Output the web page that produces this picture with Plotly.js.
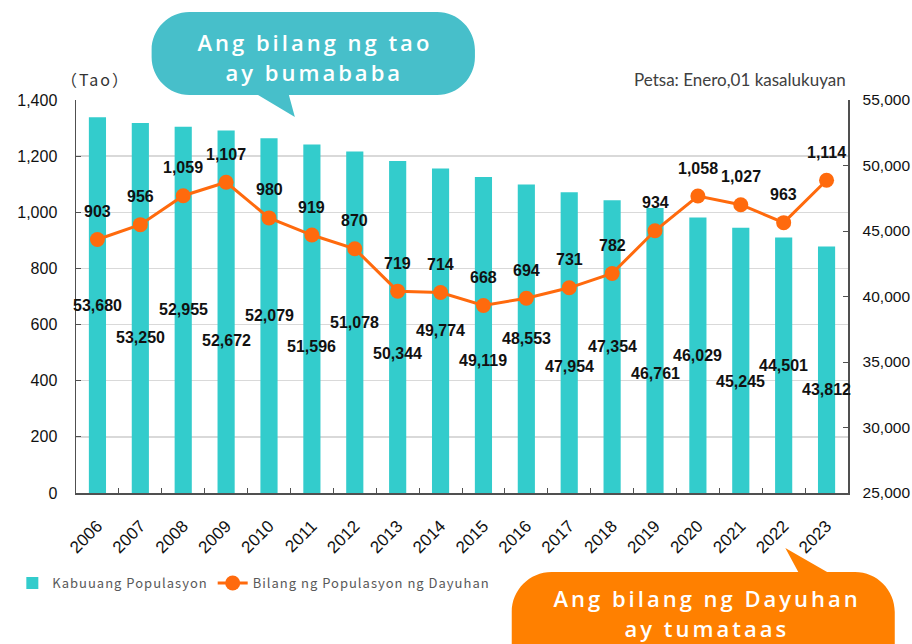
<!DOCTYPE html>
<html>
<head>
<meta charset="utf-8">
<script src="https://cdn.plot.ly/plotly-3.0.1.min.js"></script>
<style>
  html, body { margin: 0; padding: 0; background: #fff; }
  #chart { width: 912px; height: 644px; }
  g.annotation[data-index="0"] text, g.annotation[data-index="1"] text,
  g.annotation[data-index="2"] text, g.annotation[data-index="3"] text { letter-spacing: 3px; }
  g.annotation[data-index="4"] text { letter-spacing: 2px; }
  .legendtext { letter-spacing: 1px; }
</style>
</head>
<body>
<div id="chart"></div>
<script>
// ---- data ----
const years = ['2006','2007','2008','2009','2010','2011','2012','2013','2014','2015','2016','2017','2018','2019','2020','2021','2022','2023'];
const totalPop = [53680,53250,52955,52672,52079,51596,51078,50344,49774,49119,48553,47954,47354,46761,46029,45245,44501,43812];
const foreignPop = [903,956,1059,1107,980,919,870,719,714,668,694,731,782,934,1058,1027,963,1114];
const seriesNames = ['Kabuuang Populasyon', 'Bilang ng Populasyon ng Dayuhan'];

// ---- layout geometry ----
const W = 912, H = 644;
const PL = 72, PR = 848, PT = 100, PB = 493;
const fx = x => (x - PL) / (PR - PL);
const fy = y => (PB - y) / (PB - PT);
const P = (x, y) => fx(x).toFixed(5) + ',' + fy(y).toFixed(5);
const K = 0.5523;

function tealBubble() {
  const L = 148, R = 473, T = 12, B = 95, r = 38;
  return 'M' + P(L + r, T) + ' L' + P(R - r, T) +
    ' C' + P(R - r + K * r, T) + ' ' + P(R, T + r - K * r) + ' ' + P(R, T + r) +
    ' L' + P(R, B - r) +
    ' C' + P(R, B - r + K * r) + ' ' + P(R - r + K * r, B) + ' ' + P(R - r, B) +
    ' L' + P(286, B) + ' L' + P(292, 117) + ' L' + P(255, B) +
    ' L' + P(L + r, B) +
    ' C' + P(L + r - K * r, B) + ' ' + P(L, B - r + K * r) + ' ' + P(L, B - r) +
    ' L' + P(L, T + r) +
    ' C' + P(L, T + r - K * r) + ' ' + P(L + r - K * r, T) + ' ' + P(L + r, T) + ' Z';
}
function orangeBubble() {
  const L = 510, R = 895, T = 572, B = 700, r = 40;
  return 'M' + P(L + r, T) + ' L' + P(798, T) + ' L' + P(785, 548) + ' L' + P(827, T) +
    ' L' + P(R - r, T) +
    ' C' + P(R - r + K * r, T) + ' ' + P(R, T + r - K * r) + ' ' + P(R, T + r) +
    ' L' + P(R, B - r) +
    ' C' + P(R, B - r + K * r) + ' ' + P(R - r + K * r, B) + ' ' + P(R - r, B) +
    ' L' + P(L + r, B) +
    ' C' + P(L + r - K * r, B) + ' ' + P(L, B - r + K * r) + ' ' + P(L, B - r) +
    ' L' + P(L, T + r) +
    ' C' + P(L, T + r - K * r) + ' ' + P(L + r - K * r, T) + ' ' + P(L + r, T) + ' Z';
}

const numFont = "'Liberation Sans', Arial, sans-serif";
const fmt = v => v.toLocaleString('en-US');
const bubbleFont = { family: "'Open Sans', Lato, sans-serif", size: 22, color: '#ffffff', weight: 600 };

const annotations = [
  { text: 'Ang bilang ng tao', x: fx(312), y: fy(42), xref: 'paper', yref: 'paper', showarrow: false, xanchor: 'center', yanchor: 'middle', font: bubbleFont },
  { text: 'ay bumababa', x: fx(312), y: fy(72), xref: 'paper', yref: 'paper', showarrow: false, xanchor: 'center', yanchor: 'middle', font: bubbleFont },
  { text: 'Ang bilang ng Dayuhan', x: fx(706), y: fy(598), xref: 'paper', yref: 'paper', showarrow: false, xanchor: 'center', yanchor: 'middle', font: bubbleFont },
  { text: 'ay tumataas', x: fx(706), y: fy(628), xref: 'paper', yref: 'paper', showarrow: false, xanchor: 'center', yanchor: 'middle', font: bubbleFont },
  { text: '（Tao）', x: fx(60), y: fy(79), xref: 'paper', yref: 'paper', showarrow: false, xanchor: 'left', yanchor: 'middle',
    font: { family: "'Noto Sans CJK JP', sans-serif", size: 16, color: '#333333' } },
  { text: 'Petsa: Enero,01 kasalukuyan', x: fx(848), y: fy(79), xref: 'paper', yref: 'paper', showarrow: false, xanchor: 'right', yanchor: 'middle',
    font: { family: "Lato, 'Open Sans', sans-serif", size: 17, color: '#404040' } }
];
years.forEach((yr, i) => {
  const v = totalPop[i];
  annotations.push({
    text: fmt(v), x: i, xref: 'x', yref: 'y',
    y: 25000 + (v - 25000) * (i % 2 === 0 ? 0.5 : 0.42),
    showarrow: false, xanchor: 'center', yanchor: 'middle',
    font: { family: numFont, size: 16, color: '#111111', weight: 'bold' }
  });
  annotations.push({
    text: fmt(foreignPop[i]), x: i, xref: 'x', yref: 'y2', y: foreignPop[i], yshift: 28,
    showarrow: false, xanchor: 'center', yanchor: 'middle',
    font: { family: numFont, size: 16, color: '#111111', weight: 'bold' }
  });
});

const data = [
  { type: 'bar', name: seriesNames[0], x: years, y: totalPop, yaxis: 'y',
    marker: { color: '#33CCCC' }, hoverinfo: 'skip' },
  { type: 'scatter', mode: 'lines+markers', name: seriesNames[1], x: years, y: foreignPop, yaxis: 'y2',
    line: { color: '#FF6A0D', width: 3 }, marker: { color: '#FF6A0D', size: 15 }, hoverinfo: 'skip' }
];

const axisLine = '#505050';
const layout = {
  width: W, height: H,
  margin: { l: PL, r: W - PR, t: PT, b: H - PB },
  paper_bgcolor: '#ffffff', plot_bgcolor: '#ffffff',
  showlegend: true,
  bargap: 0.6,
  legend: { orientation: 'h', x: fx(8), y: fy(583), xanchor: 'left', yanchor: 'middle',
    font: { family: "'Noto Sans CJK JP', sans-serif", size: 13, color: '#595959' },
    itemwidth: 30, tracegroupgap: 0 },
  xaxis: { type: 'category', range: [-0.5, years.length - 0.5], autorange: false, tickangle: -45,
    showline: true, linecolor: axisLine, linewidth: 1.5,
    ticks: 'inside', ticklen: 5, tickcolor: axisLine, tickson: 'boundaries',
    tickfont: { family: numFont, size: 17, color: '#111111' }, showgrid: false, ticklabelstandoff: 15 },
  yaxis: { side: 'right', range: [25000, 55000], dtick: 5000, tickformat: ',', showgrid: false,
    showline: true, linecolor: axisLine, linewidth: 1.5, ticks: 'inside', ticklen: 5, tickcolor: axisLine,
    tickfont: { family: numFont, size: 15.5, color: '#111111' }, ticklabelstandoff: 10, zeroline: false },
  yaxis2: { overlaying: 'y', side: 'left', range: [0, 1400], dtick: 200, tickformat: ',',
    showgrid: true, gridcolor: '#D9D9D9', gridwidth: 1.5,
    showline: true, linecolor: axisLine, linewidth: 1.5, ticks: 'inside', ticklen: 5, tickcolor: axisLine,
    tickfont: { family: numFont, size: 16, color: '#111111' }, ticklabelstandoff: 14, zeroline: false },
  shapes: [
    { type: 'path', xref: 'paper', yref: 'paper', path: tealBubble(), fillcolor: '#47BFCA', line: { width: 0 }, layer: 'above' },
    { type: 'path', xref: 'paper', yref: 'paper', path: orangeBubble(), fillcolor: '#FF8000', line: { width: 0 }, layer: 'above' }
  ],
  annotations: annotations
};

Plotly.newPlot('chart', data, layout, { displayModeBar: false, staticPlot: true });
</script>
</body>
</html>
